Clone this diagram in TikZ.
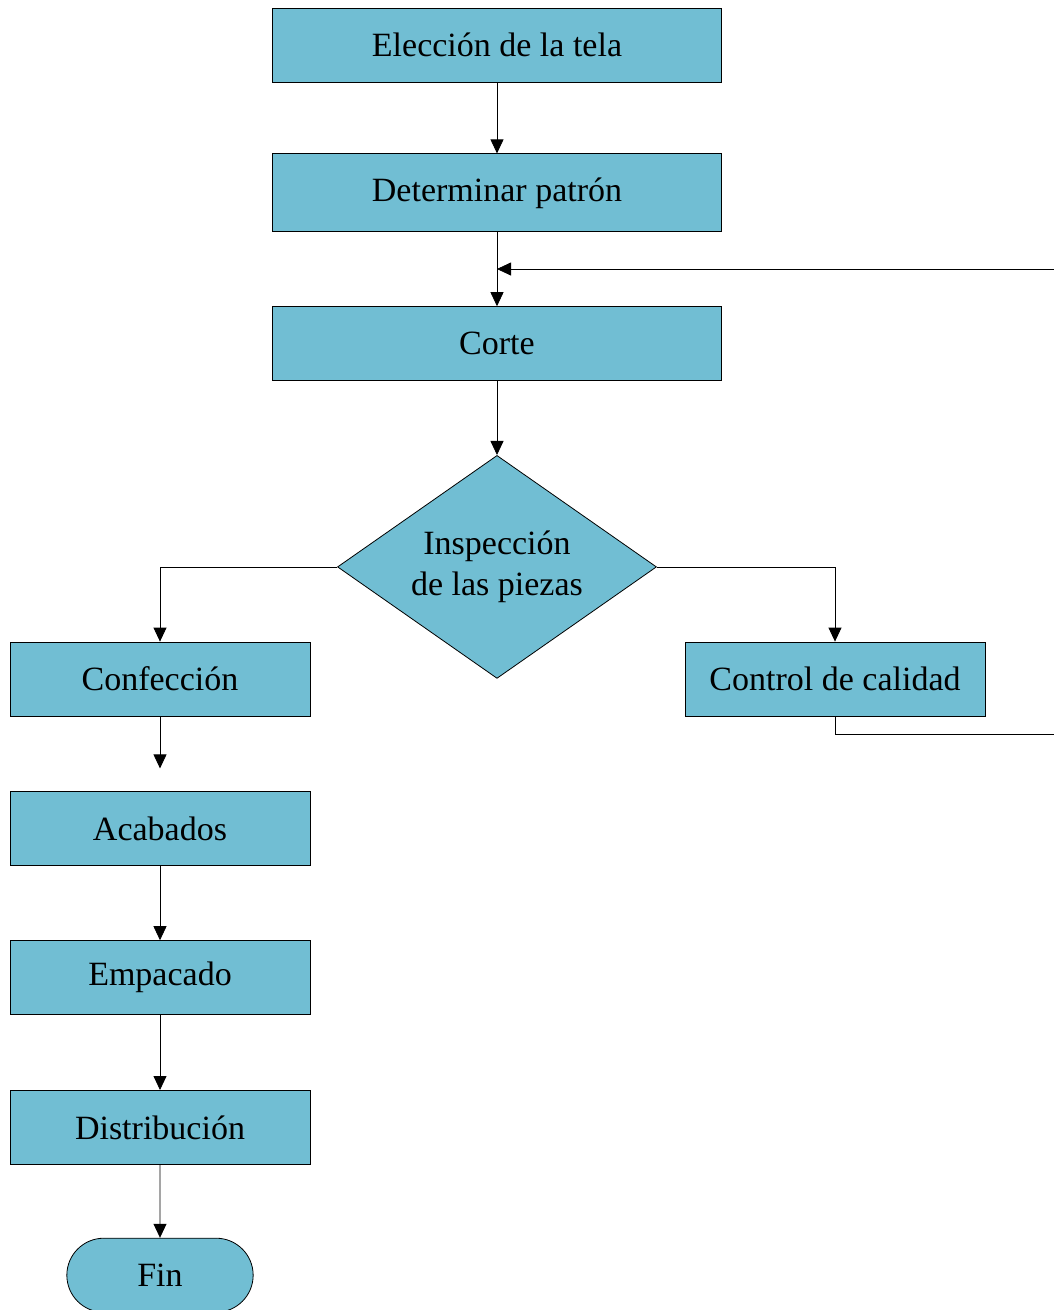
\documentclass[tikz,border=0pt]{standalone}
\usepackage{fontspec}
\setmainfont{Liberation Serif}
\usetikzlibrary{positioning,calc,arrows.meta,shapes.geometric,shapes.misc}
\definecolor{boxfill}{RGB}{113,190,211}
\tikzset{
    step box/.style = {
        draw,
        fill = boxfill,
        line width = 0.8pt,
        minimum width = 449pt,
        minimum height = 74pt,
        inner sep = 0pt,
        font = \fontsize{34}{41}\selectfont,
        },
    small box/.style = {
        step box,
        minimum width = 300pt,
        },
    decision/.style = {
        draw,
        diamond,
        aspect = 1.43,
        fill = boxfill,
        line width = 0.8pt,
        minimum width = 319pt,
        minimum height = 223pt,
        inner sep = 0pt,
        align = center,
        font = \fontsize{34}{41}\selectfont,
        },
    terminal/.style = {
        draw,
        rounded rectangle,
        fill = boxfill,
        line width = 0.8pt,
        minimum width = 193pt,
        minimum height = 74pt,
        font = \fontsize{34}{41}\selectfont,
        },
    flow/.style = {
        line width = 0.8pt,
        -{Triangle[length=14pt,width=13pt]},
        },
    line/.style = {
        line width = 0.8pt,
        },
}

\begin{document}
\begin{tikzpicture}[node distance=74pt]
            \useasboundingbox (0,0) rectangle (1054pt,-1310pt);
            \node[step box] (eleccion) at (497pt,-45pt) {Elección de la tela};
            \node[step box, minimum height=78pt, below=71pt of eleccion] (patron) {Determinar patrón};
            \node[step box, below=of patron] (corte) {Corte};
            \node[decision, below=of corte] (inspeccion) {Inspección\\de las piezas};
            \node[small box] (confeccion) at (160pt,-679pt) {Confección};
            \node[small box] (control) at (835pt,-679pt) {Control de calidad};
            \node[small box, below=75pt of confeccion] (acabados) {Acabados};
            \node[small box, below=of acabados] (empacado) {Empacado};
            \node[small box, below=75pt of empacado] (distribucion) {Distribución};
            \node[terminal, below=73pt of distribucion] (fin) {Fin};

            \coordinate (retorno) at (1054pt,-269pt);
            \coordinate (salida) at (1054pt,-734pt);
            \coordinate[below=52pt of confeccion.south] (hueco);

            \draw[flow] (eleccion) -- (patron);
            \draw[flow] (patron) -- (corte);
            \draw[flow] (retorno) -- (corte.north |- retorno);
            \draw[flow] (corte) -- (inspeccion);
            \draw[flow] (inspeccion.west) -| (confeccion.north);
            \draw[flow] (inspeccion.east) -| (control.north);
            \draw[line] (control.south) |- (salida);
            \draw[flow] (confeccion.south) -- (hueco);
            \draw[flow] (acabados) -- (empacado);
            \draw[flow] (empacado) -- (distribucion);
            \draw[flow] (distribucion) -- (fin);
        \end{tikzpicture}
\end{document}
